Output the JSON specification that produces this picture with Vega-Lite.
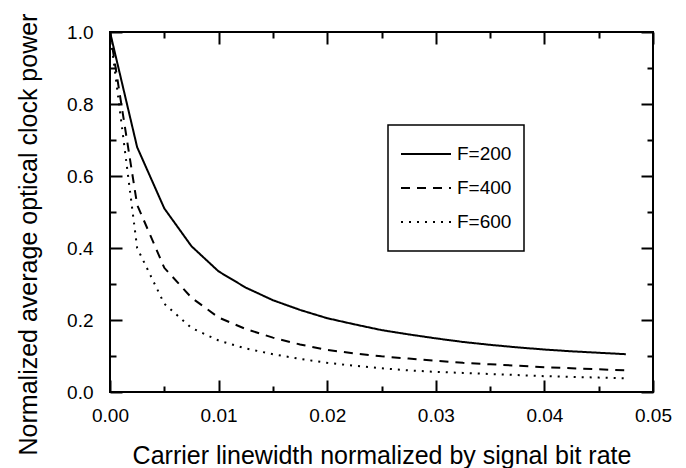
{
  "$schema": "https://vega.github.io/schema/vega-lite/v6.json",
  "width": 543,
  "height": 360,
  "autosize": "none",
  "padding": {"left": 110, "top": 32, "right": 33, "bottom": 76},
  "background": "white",
  "config": {
    "view": {"stroke": "black", "strokeWidth": 2},
    "font": "Liberation Sans",
    "legend": {"strokeWidth": 1.5},
    "axis": {
      "grid": false,
      "domain": false,
      "ticks": true,
      "tickColor": "black",
      "tickWidth": 2,
      "labelFont": "Liberation Sans",
      "labelFontSize": 19,
      "labelColor": "black",
      "titleFont": "Liberation Sans",
      "titleFontSize": 25,
      "titleFontWeight": "normal",
      "titleColor": "black"
    }
  },
  "data": {
    "values": [
      {"x": 0, "y": 1.0, "F": "F=200"},
      {"x": 0.0025, "y": 0.68, "F": "F=200"},
      {"x": 0.005, "y": 0.51, "F": "F=200"},
      {"x": 0.0075, "y": 0.405, "F": "F=200"},
      {"x": 0.01, "y": 0.335, "F": "F=200"},
      {"x": 0.0125, "y": 0.29, "F": "F=200"},
      {"x": 0.015, "y": 0.255, "F": "F=200"},
      {"x": 0.0175, "y": 0.228, "F": "F=200"},
      {"x": 0.02, "y": 0.205, "F": "F=200"},
      {"x": 0.0225, "y": 0.188, "F": "F=200"},
      {"x": 0.025, "y": 0.172, "F": "F=200"},
      {"x": 0.0275, "y": 0.16, "F": "F=200"},
      {"x": 0.03, "y": 0.149, "F": "F=200"},
      {"x": 0.0325, "y": 0.139, "F": "F=200"},
      {"x": 0.035, "y": 0.131, "F": "F=200"},
      {"x": 0.0375, "y": 0.124, "F": "F=200"},
      {"x": 0.04, "y": 0.118, "F": "F=200"},
      {"x": 0.0425, "y": 0.113, "F": "F=200"},
      {"x": 0.045, "y": 0.109, "F": "F=200"},
      {"x": 0.0475, "y": 0.105, "F": "F=200"},
      {"x": 0, "y": 1.0, "F": "F=400"},
      {"x": 0.0025, "y": 0.52, "F": "F=400"},
      {"x": 0.005, "y": 0.345, "F": "F=400"},
      {"x": 0.0075, "y": 0.262, "F": "F=400"},
      {"x": 0.01, "y": 0.207, "F": "F=400"},
      {"x": 0.0125, "y": 0.175, "F": "F=400"},
      {"x": 0.015, "y": 0.151, "F": "F=400"},
      {"x": 0.0175, "y": 0.132, "F": "F=400"},
      {"x": 0.02, "y": 0.117, "F": "F=400"},
      {"x": 0.0225, "y": 0.107, "F": "F=400"},
      {"x": 0.025, "y": 0.099, "F": "F=400"},
      {"x": 0.0275, "y": 0.093, "F": "F=400"},
      {"x": 0.03, "y": 0.087, "F": "F=400"},
      {"x": 0.0325, "y": 0.081, "F": "F=400"},
      {"x": 0.035, "y": 0.077, "F": "F=400"},
      {"x": 0.0375, "y": 0.073, "F": "F=400"},
      {"x": 0.04, "y": 0.069, "F": "F=400"},
      {"x": 0.0425, "y": 0.066, "F": "F=400"},
      {"x": 0.045, "y": 0.063, "F": "F=400"},
      {"x": 0.0475, "y": 0.06, "F": "F=400"},
      {"x": 0, "y": 1.0, "F": "F=600"},
      {"x": 0.0025, "y": 0.4, "F": "F=600"},
      {"x": 0.005, "y": 0.245, "F": "F=600"},
      {"x": 0.0075, "y": 0.178, "F": "F=600"},
      {"x": 0.01, "y": 0.143, "F": "F=600"},
      {"x": 0.0125, "y": 0.121, "F": "F=600"},
      {"x": 0.015, "y": 0.105, "F": "F=600"},
      {"x": 0.0175, "y": 0.092, "F": "F=600"},
      {"x": 0.02, "y": 0.081, "F": "F=600"},
      {"x": 0.0225, "y": 0.073, "F": "F=600"},
      {"x": 0.025, "y": 0.066, "F": "F=600"},
      {"x": 0.0275, "y": 0.06, "F": "F=600"},
      {"x": 0.03, "y": 0.056, "F": "F=600"},
      {"x": 0.0325, "y": 0.053, "F": "F=600"},
      {"x": 0.035, "y": 0.05, "F": "F=600"},
      {"x": 0.0375, "y": 0.047, "F": "F=600"},
      {"x": 0.04, "y": 0.044, "F": "F=600"},
      {"x": 0.0425, "y": 0.042, "F": "F=600"},
      {"x": 0.045, "y": 0.04, "F": "F=600"},
      {"x": 0.0475, "y": 0.038, "F": "F=600"}
    ]
  },
  "resolve": {"axis": {"x": "independent", "y": "independent"}},
  "layer": [
    {
      "mark": {"type": "line", "color": "black", "strokeWidth": 2},
      "encoding": {
        "x": {
          "field": "x", "type": "quantitative",
          "scale": {"domain": [0, 0.05], "nice": false, "zero": false},
          "axis": {
            "orient": "bottom",
            "title": "Carrier linewidth normalized by signal bit rate",
            "values": [0, 0.01, 0.02, 0.03, 0.04, 0.05],
            "format": ".2f",
            "tickSize": -12,
            "labelPadding": 26,
            "labelFlush": false,
            "labelOverlap": false,
            "titleY": 71,
            "titleBaseline": "alphabetic"
          }
        },
        "y": {
          "field": "y", "type": "quantitative",
          "scale": {"domain": [0, 1.0], "nice": false, "zero": false},
          "axis": {
            "orient": "left",
            "title": "Normalized average optical clock power",
            "values": [0, 0.2, 0.4, 0.6, 0.8, 1.0],
            "format": ".1f",
            "tickSize": -12,
            "labelPadding": 29,
            "labelFlush": false,
            "labelOverlap": false,
            "titleAngle": 270,
            "titleX": -74,
            "titleY": 202,
            "titleAlign": "center",
            "titleBaseline": "alphabetic"
          }
        },
        "strokeDash": {
          "field": "F", "type": "nominal",
          "scale": {"domain": ["F=200", "F=400", "F=600"], "range": [[1, 0], [9, 7], [2, 6]]},
          "legend": {
            "title": null,
            "orient": "none",
            "legendX": 278,
            "legendY": 93,
            "padding": 12,
            "strokeColor": "black",
            "fillColor": "white",
            "symbolType": "stroke",
            "symbolSize": 2500,
            "symbolStrokeWidth": 2,
            "symbolStrokeColor": "black",
            "labelFontSize": 19,
            "labelFont": "Liberation Sans",
            "labelColor": "black",
            "labelOffset": 5,
            "clipHeight": 34,
            "rowPadding": 0
          }
        }
      }
    },
    {
      "mark": {"type": "line", "strokeOpacity": 0},
      "encoding": {
        "x": {
          "field": "x", "type": "quantitative",
          "axis": {
            "orient": "bottom", "title": null, "labels": false,
            "values": [0.005, 0.015, 0.025, 0.035, 0.045],
            "tickSize": -6
          }
        },
        "y": {
          "field": "y", "type": "quantitative",
          "axis": {
            "orient": "left", "title": null, "labels": false,
            "values": [0.1, 0.3, 0.5, 0.7, 0.9],
            "tickSize": -6
          }
        },
        "detail": {"field": "F", "type": "nominal"}
      }
    },
    {
      "mark": {"type": "line", "strokeOpacity": 0},
      "encoding": {
        "x": {
          "field": "x", "type": "quantitative",
          "axis": {
            "orient": "top", "title": null, "labels": false,
            "values": [0, 0.01, 0.02, 0.03, 0.04, 0.05],
            "tickSize": -12
          }
        },
        "y": {
          "field": "y", "type": "quantitative",
          "axis": {
            "orient": "right", "title": null, "labels": false,
            "values": [0, 0.2, 0.4, 0.6, 0.8, 1.0],
            "tickSize": -12
          }
        },
        "detail": {"field": "F", "type": "nominal"}
      }
    },
    {
      "mark": {"type": "line", "strokeOpacity": 0},
      "encoding": {
        "x": {
          "field": "x", "type": "quantitative",
          "axis": {
            "orient": "top", "title": null, "labels": false,
            "values": [0.005, 0.015, 0.025, 0.035, 0.045],
            "tickSize": -6
          }
        },
        "y": {
          "field": "y", "type": "quantitative",
          "axis": {
            "orient": "right", "title": null, "labels": false,
            "values": [0.1, 0.3, 0.5, 0.7, 0.9],
            "tickSize": -6
          }
        },
        "detail": {"field": "F", "type": "nominal"}
      }
    }
  ]
}
